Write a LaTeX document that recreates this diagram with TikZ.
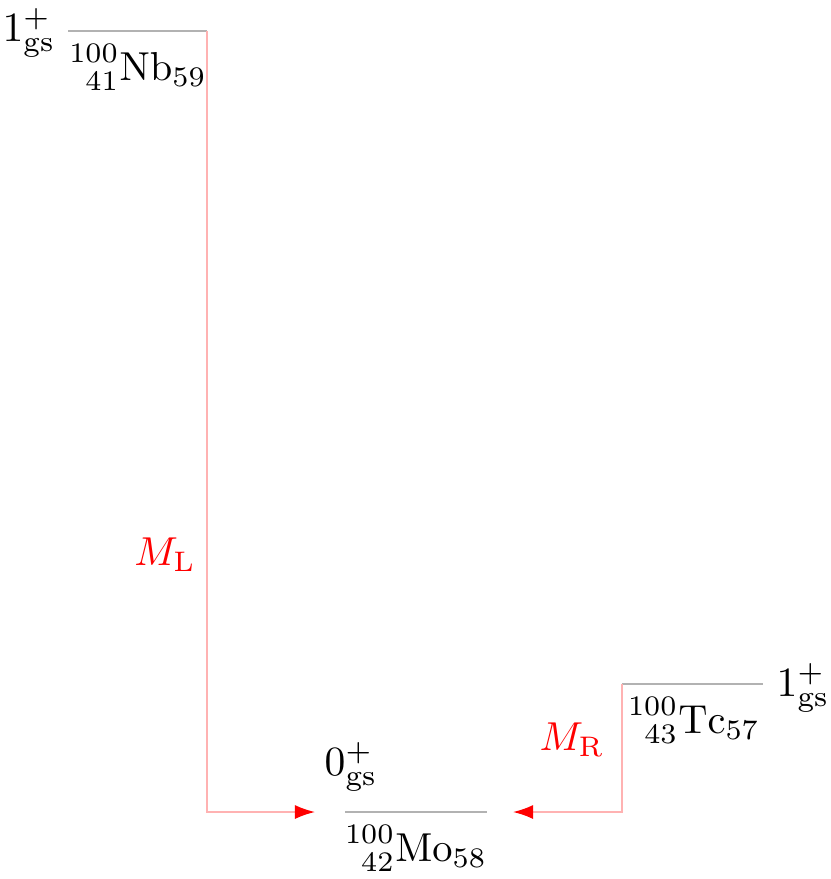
\documentclass[tikz,border=0pt]{standalone}
\usepackage{mathtools}
\usetikzlibrary{arrows.meta}

\begin{document}
\begin{tikzpicture}[x=0.0087cm,y=-0.0087cm]
		\useasboundingbox (0,0) rectangle (830,879);
		\coordinate (nbA) at (68,31);
		\coordinate (nbB) at (207,31);
		\coordinate (moA) at (345,812);
		\coordinate (moB) at (487,812);
		\coordinate (tcA) at (622,684);
		\coordinate (tcB) at (763,684);
		\coordinate (endL) at (315,812);
		\coordinate (endR) at (513,812);
		\draw [gray!60,line width=0.7pt] (nbA) -- (nbB);
		\draw [gray!60,line width=0.7pt] (moA) -- (moB);
		\draw [gray!60,line width=0.7pt] (tcA) -- (tcB);
		\node[anchor=east,scale=1.03] (nbspin) at (70,33) {$1^+_{\mathrm{gs}}$};
		\node[anchor=north] (nb) at (138,30) {$\prescript{100}{41}{\mathrm{Nb}}_{59}$};
		\node[anchor=south west,scale=1.03] (mospin) at (310,806) {$0^+_{\mathrm{gs}}$};
		\node[anchor=north] (mo) at (416,811) {$\prescript{100}{42}{\mathrm{Mo}}_{58}$};
		\node[anchor=west,scale=1.03] (tcspin) at (762,688) {$1^+_{\mathrm{gs}}$};
		\node[anchor=north] (tc) at (694,683) {$\prescript{100}{43}{\mathrm{Tc}}_{57}$};
        \draw [red!30,-{Latex[red,length=5pt,width=3.5pt]}] (nbB) -- (nbB |- endL) -- (endL);
        \draw [red!30,-{Latex[red,length=5pt,width=3.5pt]}] (tcA) -- (tcA |- endR) -- (endR);
        \node[red] (ml) at (165,555) {$M_{\mathrm{L}}$};
        \node[red] (mr) at (572,740) {$M_{\mathrm{R}}$};
	
		\end{tikzpicture}
\end{document}
